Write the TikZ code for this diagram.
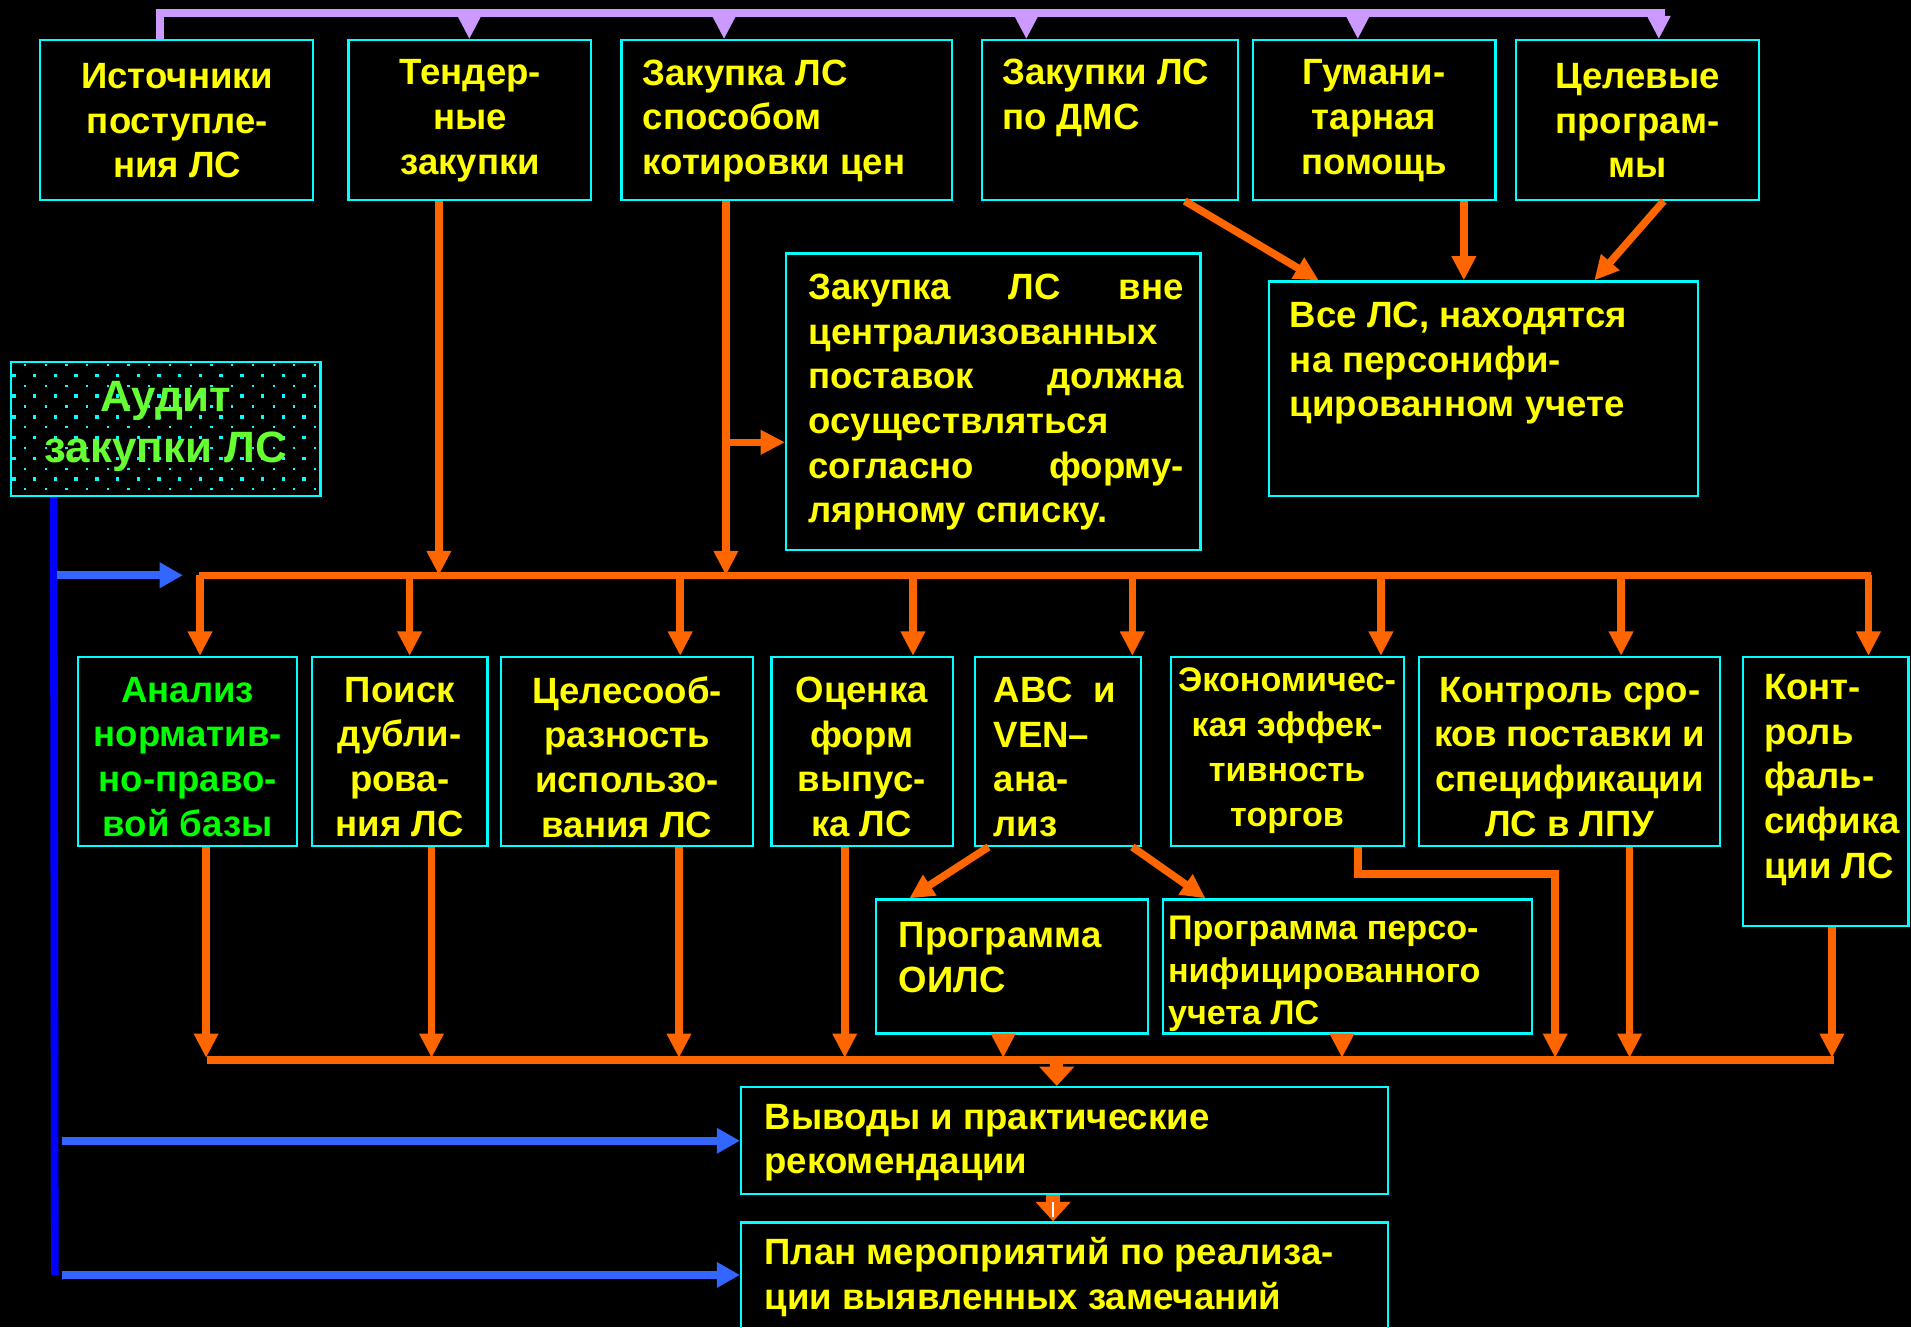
\documentclass[tikz,border=0pt]{standalone}
\usepackage{fontspec}
\setmainfont{Liberation Sans}
\usetikzlibrary{arrows.meta,fit,calc}
\definecolor{cy}{HTML}{00FFFF}
\definecolor{yel}{HTML}{FFFF00}
\definecolor{org}{HTML}{FF6600}
\definecolor{lav}{HTML}{CC99FF}
\definecolor{bl}{HTML}{0000FF}
\definecolor{lbl}{HTML}{3366FF}
\definecolor{gr}{HTML}{00FF00}
\definecolor{lgr}{HTML}{66FF33}
\newcommand\mkpt[3]{\path ($(#1)+(#2)$) coordinate (#3);}
\begin{document}
\begin{tikzpicture}[x=0.5pt,y=-0.5pt,
  box/.style={draw=cy, line width=0.9pt, inner sep=0pt},
  txt/.style={text=yel, font=\fontsize{15}{18.3}\selectfont\bfseries, inner sep=0pt},
  stxt/.style={text=yel, font=\fontsize{14}{18.5}\selectfont\bfseries, inner sep=0pt},
  oarr/.style={draw=org, line width=3.1pt, -{Triangle[length=10pt,width=9.5pt]}},
  parr/.style={draw=lav, line width=3.5pt, -{Triangle[length=9.5pt,width=9pt]}},
  barr/.style={draw=lbl, line width=3.3pt, -{Triangle[length=9.5pt,width=10pt]}},
  tarr/.style={draw=org, line width=5.5pt, -{Triangle[length=8pt,width=14pt]}},
]
\fill[black] (0,0) rectangle (1568,1089);
\useasboundingbox (0,0) rectangle (1568,1089);

% ---------- top boxes ----------
\node[box, fit={(33,33) (257,164)}] (src) {};
\node[box, fit={(286,33) (485,164)}] (tend) {};
\node[box, fit={(510,33) (781,164)}] (kot) {};
\node[box, fit={(806,33) (1016,164)}] (dms) {};
\node[box, fit={(1028,33) (1227,164)}] (hum) {};
\node[box, fit={(1244,33) (1443,164)}] (prog) {};

\node[txt, align=center] (srct) at (145.5,99) {Источники\\поступле-\\ния ЛС};
\node[txt, align=center] (tendt) at (386,99) {Тендер-\\ные\\закупки};
\node[txt, align=left, anchor=west] (kott) at (527,99) {Закупка ЛС\\способом\\котировки цен};
\node[txt, align=left, anchor=west] (dmst) at (822,80.5) {Закупки ЛС\\по ДМС};
\node[txt, align=center] (humt) at (1127.5,99) {Гумани-\\тарная\\помощь};
\node[txt, align=center] (progt) at (1343.5,99) {Целевые\\програм-\\мы};

% ---------- purple bus ----------
\coordinate (ptop) at (1366,10.5);
\mkpt{src.north west}{99,0}{s0}
\draw[lav, line width=3.5pt] (s0) |- (ptop);
\foreach \n/\dx in {tend/100, kot/85, dms/37, hum/87, prog/118} {
  \path ($(\n.north west)+(\dx,0)$) coordinate (tmp);
  \draw[parr] (tmp |- ptop) -- (tmp);
}

% ---------- middle-upper boxes ----------
\node[box, fit={(645,208) (985,451)}] (vne) {};
\node[txt, align=left, anchor=west] (vnet) at (663,330) {%
\makebox[154pt][s]{Закупка ЛС вне}\\
централизованных\\
\makebox[154pt][s]{поставок должна}\\
осуществляться\\
\makebox[154pt][s]{согласно форму-}\\
лярному списку.};

\node[box, fit={(1041,231) (1393,407)}] (vse) {};
\node[txt, align=left, anchor=west] (vset) at (1058,298) {Все ЛС, находятся\\на персонифи-\\цированном учете};

% ---------- Audit box ----------
\foreach \r in {0,2,...,12} \foreach \k in {0,...,14}
  \fill[cy] ({20.5+17*\k-0.9},{299.5+8.5*\r-0.9}) rectangle ++(1.8,1.8);
\foreach \r in {1,3,...,11} \foreach \k in {0,...,14}
  \fill[cy] ({11.5+17*\k-1.4},{299.5+8.5*\r-1.4}) rectangle ++(2.8,2.8);
\node[box, fit={(9,297) (263,407)}] (aud) {};
\node[text=lgr, font=\fontsize{18}{21}\selectfont\bfseries, align=center, inner sep=0pt] (audt) at (136,350) {Аудит\\закупки ЛС};

% ---------- orange arrows, top part ----------
\coordinate (busL) at (163,472);
\coordinate (busR) at (1535,472);
\draw[org, line width=3pt] (busL) -- (busR);

\mkpt{tend.south west}{75,0}{t1}
\draw[oarr] (t1) -- (t1 |- busL);
\mkpt{kot.south west}{86.5,0}{k2}
\draw[oarr] (k2) -- (k2 |- busL);
\mkpt{vne.south west}{0,-89}{v1}
\draw[oarr] (k2 |- v1) -- (v1);

\mkpt{dms.south west}{167,0}{d1}
\mkpt{vse.north west}{42,0}{v2}
\draw[oarr] (d1) -- (v2);
\mkpt{hum.south west}{174,0}{h1}
\draw[oarr] (h1) -- (h1 |- vse.north);
\mkpt{prog.south west}{122,0}{p1}
\mkpt{vse.north west}{268,0}{v3}
\draw[oarr] (p1) -- (v3);

% ---------- middle boxes ----------
\node[box, fit={(64,539) (244,694)}] (m1) {};
\node[box, fit={(256,539) (400,694)}] (m2) {};
\node[box, fit={(411,539) (618,694)}] (m3) {};
\node[box, fit={(633,539) (782,694)}] (m4) {};
\node[box, fit={(800,539) (936,694)}] (m5) {};
\node[box, fit={(961,539) (1152,694)}] (m6) {};
\node[box, fit={(1164,539) (1411,694)}] (m7) {};
\node[box, fit={(1430,539) (1566,760)}] (m8) {};

\node[txt, text=gr, align=center] (m1t) at (154,621) {Анализ\\норматив-\\но-право-\\вой базы};
\node[txt, align=center] (m2t) at (328,621) {Поиск\\дубли-\\рова-\\ния ЛС};
\node[txt, align=center] (m3t) at (514.5,621) {Целесооб-\\разность\\использо-\\вания ЛС};
\node[txt, align=center] (m4t) at (707,621) {Оценка\\форм\\выпус-\\ка ЛС};
\node[txt, align=left, anchor=west] (m5t) at (815,621) {ABC~~и\\VEN–\\ана-\\лиз};
\node[stxt, align=center] (m6t) at (1056,616) {Экономичес-\\кая эффек-\\тивность\\торгов};
\node[txt, align=center] (m7t) at (1288,621) {Контроль сро-\\ков поставки и\\спецификации\\ЛС в ЛПУ};
\node[txt, align=left, anchor=west] (m8t) at (1447,640) {Конт-\\роль\\фаль-\\сифика\\ции ЛС};

\foreach \n/\dx in {m1/101, m2/81, m3/148, m4/117, m5/130, m6/173, m7/167, m8/104} {
  \path ($(\n.north west)+(\dx,0)$) coordinate (tmp);
  \draw[oarr] (tmp |- busL) -- (tmp);
}

% ---------- program boxes ----------
\node[box, fit={(719,738) (942,848)}] (oils) {};
\node[box, fit={(954,738) (1257,848)}] (pers) {};
\node[txt, align=left, anchor=west] (oilst) at (737,785.5) {Программа\\ОИЛС};
\node[text=yel, font=\fontsize{14}{17.3}\selectfont\bfseries, inner sep=0pt, align=left, anchor=west] (perst) at (958,799) {Программа персо-\\нифицированного\\учета ЛС};

\mkpt{m5.south west}{12,0}{a5}
\mkpt{oils.north west}{28,0}{o5}
\draw[oarr] (a5) -- (o5);
\mkpt{m5.south west}{130,0}{b5}
\mkpt{pers.north west}{36,0}{q5}
\draw[oarr] (b5) -- (q5);

% ---------- bottom bus ----------
\coordinate (bbL) at (170,870);
\coordinate (bbR) at (1505,870);
\coordinate (bbT) at (0,868);
\draw[org, line width=3.2pt] (bbL) -- (bbR);
\foreach \n/\dx in {m1/106, m2/99, m3/147, m4/61, oils/105, pers/148, m7/174, m8/74} {
  \path ($(\n.south west)+(\dx,0)$) coordinate (tmp);
  \draw[oarr] (tmp) -- (tmp |- bbT);
}
\mkpt{m6.south west}{154,0}{e1}
\coordinate (ex) at (1276,868);
\draw[oarr] (e1) -- ++(0,22) -| (ex);

% ---------- conclusion boxes ----------
\node[box, fit={(608,892) (1139,980)}] (vyv) {};
\node[box, fit={(608,1003) (1139,1095)}] (plan) {};
\node[txt, align=left, anchor=west] (vyvt) at (627,937.5) {Выводы и практические\\рекомендации};
\node[txt, align=left, anchor=west] (plant) at (627,1048) {План мероприятий по реализа-\\ции выявленных замечаний};

\mkpt{vyv.north west}{260,0}{w1}
\draw[tarr] (w1 |- bbL) -- (w1);
\mkpt{vyv.south west}{257,0}{w2}
\draw[tarr] (w2) -- (w2 |- plan.north);
\draw[white, line width=0.8pt] ($(w2)+(0,5)$) -- ++(0,13);

% ---------- blue lines ----------
\mkpt{aud.south west}{36,0}{a1}
\coordinate (blueEnd) at (45,1046);
\draw[bl, line width=3.1pt] (a1) -- (blueEnd);
\coordinate (ba) at (150,472);
\draw[barr] ($(a1 |- ba)+(3,0)$) -- (ba);
\draw[barr] ($(a1 |- vyv.west)+(7,0)$) -- (vyv.west);
\mkpt{plan.north west}{0,44}{pw}
\draw[barr] ($(a1 |- pw)+(7,0)$) -- (pw);
\end{tikzpicture}
\end{document}
